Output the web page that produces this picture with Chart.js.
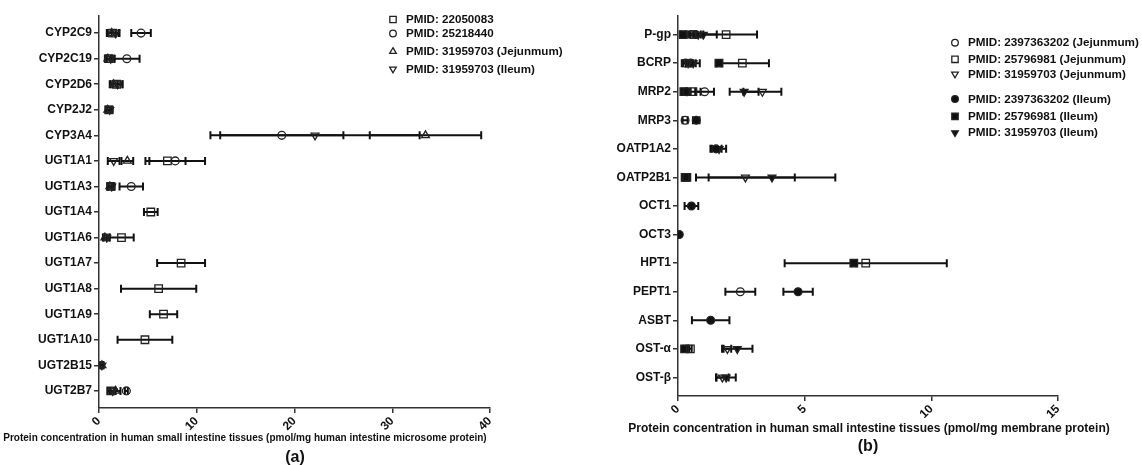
<!DOCTYPE html>
<html><head><meta charset="utf-8">
<script src="https://cdn.jsdelivr.net/npm/chart.js@4.4.1/dist/chart.umd.min.js"></script>
<style>
html,body{margin:0;padding:0;background:#fff;}
body{width:1142px;height:465px;position:relative;overflow:hidden;font-family:"Liberation Sans",Arial,sans-serif;font-weight:bold;color:#111;}
#ca{position:absolute;left:0;top:0;}
#cb{position:absolute;left:560px;top:0;}
.t{position:absolute;white-space:nowrap;transform:translate(-50%,-50%);line-height:1;}
</style></head><body>
<canvas id="ca" width="640" height="465"></canvas>
<canvas id="cb" width="582" height="465"></canvas>
<div class="t" style="left:245px;top:438px;font-size:10px;">Protein concentration in human small intestine tissues (pmol/mg human intestine microsome protein)</div>
<div class="t" style="left:295px;top:457px;font-size:16px;">(a)</div>
<div class="t" style="left:869px;top:428px;font-size:12px;">Protein concentration in human small intestine tissues (pmol/mg membrane protein)</div>
<div class="t" style="left:868px;top:446px;font-size:16px;">(b)</div>
<script>
// ---------- Panel (a) data ----------
const catsA = ['CYP2C9','CYP2C19','CYP2D6','CYP2J2','CYP3A4','UGT1A1','UGT1A3','UGT1A4','UGT1A6','UGT1A7','UGT1A8','UGT1A9','UGT1A10','UGT2B15','UGT2B7'];
const ticksA = [0, 10, 20, 30, 40];
const a22050083Mean = [1.4, 1.0, 1.8, 1.0, null, 7.0, 1.2, 5.3, 2.3, 8.4, 6.1, 6.6, 4.7, null, 1.2];
const a22050083Sd   = [0.6, 0.3, 0.6, 0.3, null, 1.85, 0.3, 0.7, 1.25, 2.45, 3.85, 1.4, 2.8, null, 0.3];
const a25218440Mean = [4.3, 2.85, null, null, 18.7, 7.8, 3.3, null, null, null, null, null, null, null, 2.8];
const a25218440Sd   = [1.0, 1.3, null, null, 6.3, 3.05, 1.2, null, null, null, null, null, null, null, 0.15];
const a31959703JejMean = [1.3, 0.9, 1.5, 0.9, 33.4, 2.9, 1.1, null, 0.6, null, null, null, null, 0.3, 1.7];
const a31959703JejSd   = [0.4, 0.3, 0.4, 0.2, 5.7, 0.6, 0.25, null, 0.2, null, null, null, null, 0.15, 0.5];
const a31959703IleMean = [1.7, 1.2, 1.9, 1.1, 22.1, 1.5, 1.3, null, 0.8, null, null, null, null, 0.3, 1.4];
const a31959703IleSd   = [0.4, 0.4, 0.5, 0.3, 10.7, 0.6, 0.3, null, 0.3, null, null, null, null, 0.15, 0.3];

// ---------- Panel (b) data ----------
const catsB = ['P-gp','BCRP','MRP2','MRP3','OATP1A2','OATP2B1','OCT1','OCT3','HPT1','PEPT1','ASBT','OST-α','OST-β'];
const ticksB = [0, 5, 10, 15];
const b2397363202JejMean = [0.55, 0.3, 1.05, 0.28, null, null, null, null, null, 2.46, null, null, null];
const b2397363202JejSd   = [0.15, 0.15, 0.37, 0.1, null, null, null, null, null, 0.59, null, null, null];
const b25796981JejMean = [1.9, 2.54, 0.59, null, null, 0.35, null, null, 7.41, null, null, 0.49, null];
const b25796981JejSd   = [1.22, 1.05, 0.3, null, null, 0.1, null, null, 3.2, null, null, 0.05, null];
const b31959703JejMean = [0.8, 0.4, 3.33, null, null, 2.66, null, null, null, null, null, 1.95, 1.75];
const b31959703JejSd   = [0.2, 0.2, 0.75, null, null, 1.95, null, null, null, null, null, 0.15, 0.25];
const b2397363202IleMean = [0.7, 0.5, 0.35, 0.72, 1.5, null, 0.53, 0.05, null, 4.74, 1.29, null, null];
const b2397363202IleSd   = [0.2, 0.2, 0.15, 0.13, 0.22, null, 0.27, 0, null, 0.58, 0.74, null, null];
const b25796981IleMean = [0.2, 1.62, 0.23, null, null, 0.28, null, null, 6.94, null, null, 0.26, null];
const b25796981IleSd   = [0.1, 0.1, 0.1, null, null, 0.12, null, null, 0.1, null, null, 0.05, null];
const b31959703IleMean = [1.0, 0.6, 2.61, null, 1.62, 3.71, null, null, null, null, null, 2.34, 1.9];
const b31959703IleSd   = [0.53, 0.26, 0.57, null, 0.28, 2.5, null, null, null, null, null, 0.6, 0.38];

// ---------- helpers ----------
const FONT = '"Liberation Sans", Arial, sans-serif';
const INK = '#111';
const STYLE = {
  square:   {pointStyle:'rect', radius:5.3, rot:0},
  circle:   {pointStyle:'circle', radius:3.9, rot:0},
  triUp:    {pointStyle:'triangle', radius:4.5, rot:0},
  triDown:  {pointStyle:'triangle', radius:4.5, rot:180}
};
function series(label, means, sds, shape, filled){
  const st = STYLE[shape];
  const data = [];
  means.forEach((m,i)=>{ if(m!==null) data.push({x:m, y:i, e:sds[i]}); });
  return {
    label, data, shape, filled,
    pointStyle: st.pointStyle, pointRadius: st.radius, pointHoverRadius: st.radius,
    pointRotation: st.rot, pointBorderWidth: 1.3,
    pointBorderColor: '#222',
    pointBackgroundColor: filled ? '#111' : 'rgba(255,255,255,0)',
    showLine:false
  };
}
const errorBars = {
  id:'errorBars',
  beforeDatasetsDraw(chart){
    const {ctx, scales:{x,y}} = chart;
    ctx.save(); ctx.strokeStyle = INK; ctx.lineWidth = 2; ctx.lineCap='butt';
    chart.data.datasets.forEach(ds=>{
      ds.data.forEach(p=>{
        if(!p.e) return;
        const x1 = x.getPixelForValue(p.x - p.e), x2 = x.getPixelForValue(p.x + p.e);
        const yy = y.getPixelForValue(p.y);
        ctx.beginPath();
        ctx.moveTo(x1,yy); ctx.lineTo(x2,yy);
        ctx.moveTo(x1,yy-4); ctx.lineTo(x1,yy+4);
        ctx.moveTo(x2,yy-4); ctx.lineTo(x2,yy+4);
        ctx.stroke();
      });
    });
    ctx.restore();
  }
};
function drawMarker(ctx, ds, x, y){
  ctx.save();
  ctx.strokeStyle = ds.pointBorderColor; ctx.fillStyle = ds.pointBackgroundColor; ctx.lineWidth = ds.pointBorderWidth;
  if (Chart.helpers && Chart.helpers.drawPoint) {
    Chart.helpers.drawPoint(ctx, {pointStyle:ds.pointStyle, radius:ds.pointRadius*0.85, rotation:ds.pointRotation, borderWidth:ds.pointBorderWidth}, x, y);
  }
  ctx.restore();
}
const customLegend = {
  id:'customLegend',
  afterDraw(chart, args, opts){
    const ctx = chart.ctx;
    ctx.save();
    ctx.font = 'bold ' + opts.fontSize + 'px ' + FONT;
    ctx.fillStyle = INK; ctx.textBaseline = 'middle'; ctx.textAlign = 'left';
    chart.data.datasets.forEach((ds,i)=>{
      const yy = opts.rows[i];
      drawMarker(ctx, ds, opts.markerX, yy);
      ctx.fillStyle = INK;
      ctx.fillText(ds.label, opts.textX, yy + 0.5);
    });
    ctx.restore();
  }
};
function makeChart(id, cats, ticks, datasets, o){
  return new Chart(document.getElementById(id), {
    type:'scatter',
    data:{datasets},
    options:{
      responsive:false, animation:false, devicePixelRatio:1,
      layout:{padding:{left:0, right:o.padRight, top:o.top, bottom:0}},
      plugins:{legend:{display:false}, tooltip:{enabled:false}, customLegend:o.legend},
      scales:{
        x:{type:'linear', min:ticks[0], max:ticks[ticks.length-1],
           afterBuildTicks(s){ s.ticks = ticks.map(v=>({value:v})); },
           ticks:{minRotation:45, maxRotation:45, color:INK, padding:1, font:{family:FONT, weight:'bold', size:12}},
           grid:{drawOnChartArea:false, tickLength:5, color:'#333', lineWidth:1.5},
           border:{color:'#333', width:1.5},
           afterFit(s){ s.height = o.xHeight; }},
        y:{type:'linear', reverse:true, min:-o.pad, max:cats.length-1+o.pad,
           afterBuildTicks(s){ s.ticks = cats.map((c,i)=>({value:i})); },
           ticks:{autoSkip:false, color:INK, padding:2, font:{family:FONT, weight:'bold', size:12}, callback:(v)=>cats[v]},
           grid:{drawOnChartArea:false, tickLength:5, color:'#333', lineWidth:1.5},
           border:{color:'#333', width:1.5},
           afterFit(s){ s.width = o.yWidth; }}
      }
    },
    plugins:[errorBars, customLegend]
  });
}

makeChart('ca', catsA, ticksA, [
  series('PMID: 22050083', a22050083Mean, a22050083Sd, 'square', false),
  series('PMID: 25218440', a25218440Mean, a25218440Sd, 'circle', false),
  series('PMID: 31959703 (Jejunmum)', a31959703JejMean, a31959703JejSd, 'triUp', false),
  series('PMID: 31959703 (Ileum)', a31959703IleMean, a31959703IleSd, 'triDown', false)
], {padRight:150, top:16, xHeight:57, yWidth:99, pad:0.67,
    legend:{markerX:393, textX:406, fontSize:11.6, rows:[19.5, 33.5, 51.5, 69]}});

makeChart('cb', catsB, ticksB, [
  series('PMID: 2397363202 (Jejunmum)', b2397363202JejMean, b2397363202JejSd, 'circle', false),
  series('PMID: 25796981 (Jejunmum)', b25796981JejMean, b25796981JejSd, 'square', false),
  series('PMID: 31959703 (Jejunmum)', b31959703JejMean, b31959703JejSd, 'triDown', false),
  series('PMID: 2397363202 (Ileum)', b2397363202IleMean, b2397363202IleSd, 'circle', true),
  series('PMID: 25796981 (Ileum)', b25796981IleMean, b25796981IleSd, 'square', true),
  series('PMID: 31959703 (Ileum)', b31959703IleMean, b31959703IleSd, 'triDown', true)
], {padRight:84, top:16, xHeight:69, yWidth:118, pad:0.65,
    legend:{markerX:395, textX:408, fontSize:11.7, rows:[42.7, 59.3, 74, 99, 116.3, 132.7]}});
</script>
</body></html>
